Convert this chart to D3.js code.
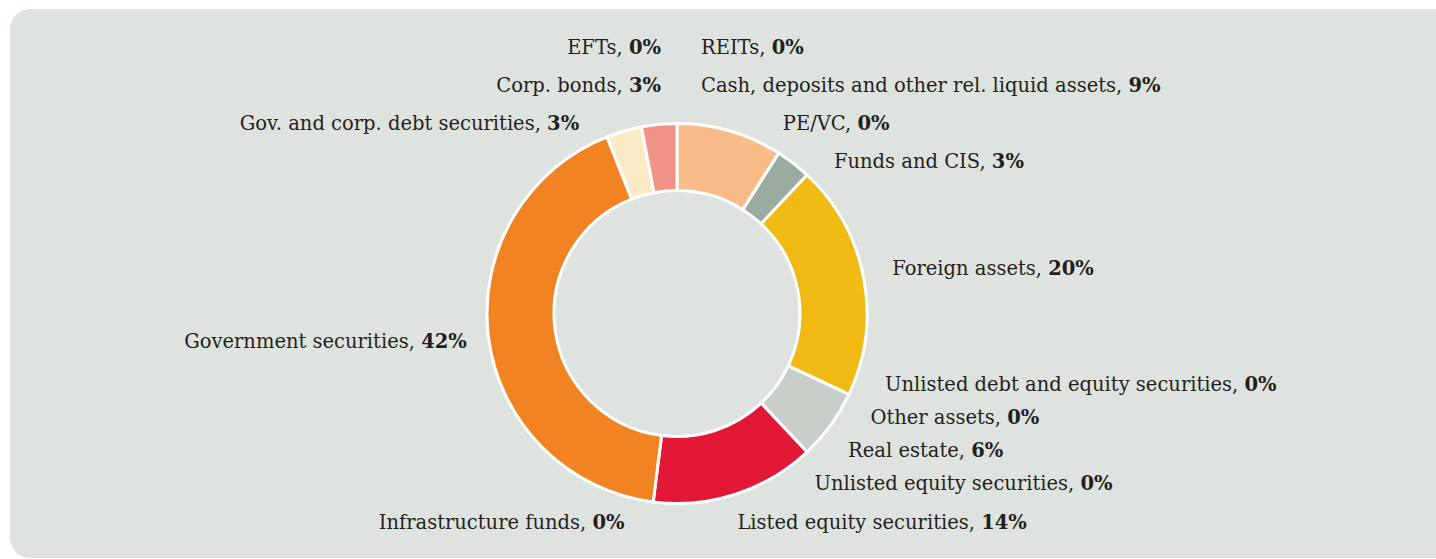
<!DOCTYPE html>
<html>
<head>
<meta charset="utf-8">
<script src="https://cdn.jsdelivr.net/npm/d3@7"></script>
<style>
  html, body { margin: 0; padding: 0; background: #fff; }
  svg { display: block; }
</style>
</head>
<body>
<div id="chart"></div>
<script>
// Asset allocation, clockwise from 12 o'clock
const categories = [
    'REITs',
    'Cash, deposits and other rel. liquid assets',
    'PE/VC',
    'Funds and CIS',
    'Foreign assets',
    'Unlisted debt and equity securities',
    'Other assets',
    'Real estate',
    'Unlisted equity securities',
    'Listed equity securities',
    'Infrastructure funds',
    'Government securities',
    'Gov. and corp. debt securities',
    'Corp. bonds',
    'EFTs'
];
const shares = [0, 9, 0, 3, 20, 0, 0, 6, 0, 14, 0, 42, 3, 3, 0];
const sliceColors = [
    '#f6a6a0', '#f9bb87', '#b9c4bb', '#9aab9f', '#f0b913', '#d8ddd8', '#d8ddd8',
    '#c8cfc8', '#d8ddd8', '#e31837', '#f5a05a', '#f28322', '#faeac6', '#f09488', '#f6a6a0'
];

const WIDTH = 1436;
const HEIGHT = 559;
const CX = 677, CY = 313.5;
const OUTER = 190, INNER = 123;
const LABEL_R = 216;          // horizontal label circle
const LABEL_R_TOP = 240;      // labels sit a bit higher above the ring
const LABEL_R_BOTTOM = 222;
const GAP_TOP = 38, GAP_BOTTOM = 33;

const data = categories.map((c, i) => ({ category: c, value: shares[i], color: sliceColors[i] }));

const svg = d3.select('#chart')
    .append('svg')
    .attr('width', WIDTH)
    .attr('height', HEIGHT);

// Background panel
svg.append('rect')
    .attr('x', 10)
    .attr('y', 9)
    .attr('width', WIDTH + 20)
    .attr('height', HEIGHT - 10)
    .attr('rx', 20)
    .attr('fill', '#dfe3df');

const pie = d3.pie()
    .sort(null)
    .value(d => d.value);

const arc = d3.arc()
    .innerRadius(INNER)
    .outerRadius(OUTER);

const arcs = pie(data);

const g = svg.append('g')
    .attr('transform', `translate(${CX}, ${CY})`);

g.selectAll('path.slice')
    .data(arcs.filter(d => d.data.value > 0))
    .join('path')
        .attr('class', 'slice')
        .attr('d', arc)
        .attr('fill', d => d.data.color)
        .attr('stroke', '#fff')
        .attr('stroke-width', 3)
        .attr('stroke-linejoin', 'round');

// Label layout: natural spot on an oval round the ring, then push apart per side
let labels = arcs.map(d => {
    const a = (d.startAngle + d.endAngle) / 2;
    const rv = Math.cos(a) > 0 ? LABEL_R_TOP : LABEL_R_BOTTOM;
    return {
        d: d,
        angle: a,
        right: a < Math.PI,
        target: CY - rv * Math.cos(a)
    };
});

function spread(list) {
    list.sort((a, b) => a.target - b.target);
    let clusters = list.map(l => ({ items: [l], sum: l.target }));
    const gapOf = c => (c.sum / c.items.length < CY ? GAP_TOP : GAP_BOTTOM);
    let moved = true;
    while (moved) {
        moved = false;
        for (let i = 0; i < clusters.length; i++) {
            const c = clusters[i];
            c.gap = gapOf(c);
            c.top = c.sum / c.items.length - (c.items.length - 1) * c.gap / 2;
        }
        for (let i = 1; i < clusters.length; i++) {
            const prev = clusters[i - 1], cur = clusters[i];
            const prevBottom = prev.top + (prev.items.length - 1) * prev.gap;
            if (cur.top - prevBottom < Math.min(prev.gap, cur.gap)) {
                prev.items = prev.items.concat(cur.items);
                prev.sum += cur.sum;
                clusters.splice(i, 1);
                moved = true;
                break;
            }
        }
    }
    clusters.forEach(c => {
        const top = Math.max(47, c.top);
        c.items.forEach((l, j) => { l.y = Math.min(522, top + j * c.gap); });
    });
}

spread(labels.filter(l => l.right));
spread(labels.filter(l => !l.right));

labels.forEach(l => {
    const dy = l.y - CY;
    const dx = Math.max(20, Math.sqrt(Math.max(0, LABEL_R * LABEL_R - dy * dy)));
    l.x = CX + 4 + (l.right ? dx : -dx);
});

const txt = svg.selectAll('text.label')
    .data(labels)
    .join('text')
        .attr('class', 'label')
        .attr('x', l => l.x)
        .attr('y', l => l.y)
        .attr('dy', '0.35em')
        .attr('text-anchor', l => l.right ? 'start' : 'end')
        .attr('font-family', '"DejaVu Serif", serif')
        .attr('font-size', '19.5px')
        .attr('fill', '#231f20');

txt.append('tspan')
    .text(l => `${l.d.data.category}, `);
txt.append('tspan')
    .attr('font-weight', 'bold')
    .text(l => `${l.d.data.value}%`);
</script>
</body>
</html>
